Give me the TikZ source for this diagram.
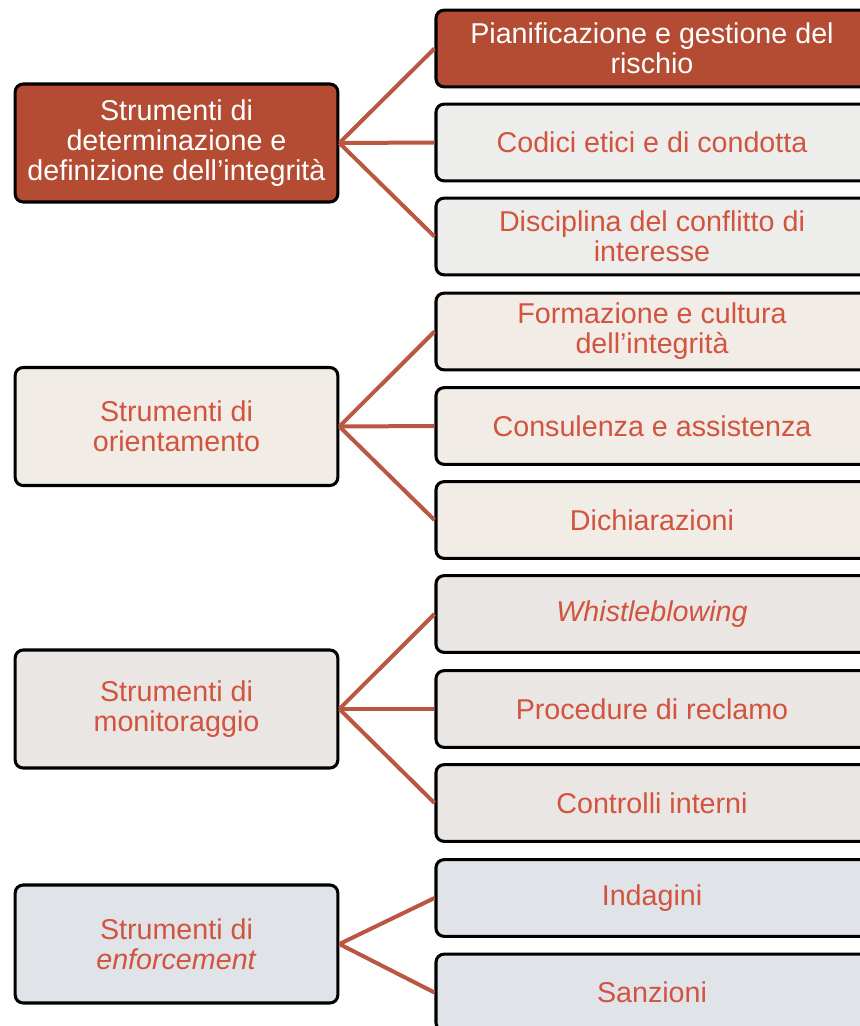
\documentclass[tikz,border=0pt]{standalone}
\usepackage{fontspec}
\setmainfont{Liberation Sans}
\definecolor{rust}{RGB}{179,76,51}
\definecolor{txtred}{RGB}{210,84,63}
\definecolor{linered}{RGB}{185,87,66}
\definecolor{fillA}{RGB}{237,238,236}
\definecolor{fillB}{RGB}{241,236,230}
\definecolor{fillC}{RGB}{234,230,227}
\definecolor{fillD}{RGB}{224,227,232}
\begin{document}
\begin{tikzpicture}[x=0.75pt,y=-0.75pt,
  box/.style={draw=black,line width=2.3pt,rounded corners=6pt,align=center,
    inner sep=0pt,font=\fontsize{21.5}{22.5}\selectfont,text=txtred},
  leftbox/.style={box,minimum width=242pt,minimum height=88.5pt},
  rightbox/.style={box,minimum width=324pt,minimum height=57.5pt},
  conn/.style={draw=linered,line width=3pt}]
\useasboundingbox (0,0) rectangle (860,1026);
\clip (0,0) rectangle (860,1026);
% left boxes
\node[leftbox,fill=rust,text=white] (L1) at (176.5,143) {Strumenti di\\determinazione e\\definizione dell’integrità};
\node[leftbox,fill=fillB] (L2) at (176.5,426.5) {Strumenti di\\orientamento};
\node[leftbox,fill=fillC] (L3) at (176.5,709) {Strumenti di\\monitoraggio};
\node[leftbox,fill=fillD] (L4) at (176.5,944) {Strumenti di\\\textit{enforcement}};
% right boxes
\node[rightbox,fill=rust,text=white] (R1) at (652,48.5) {Pianificazione e gestione del\\rischio};
\node[rightbox,fill=fillA] (R2) at (652,142.5) {Codici etici e di condotta};
\node[rightbox,fill=fillA] (R3) at (652,236.5) {Disciplina del conflitto di\\interesse};
\node[rightbox,fill=fillB] (R4) at (652,331.5) {Formazione e cultura\\dell’integrità};
\node[rightbox,fill=fillB] (R5) at (652,426) {Consulenza e assistenza};
\node[rightbox,fill=fillB] (R6) at (652,520) {Dichiarazioni};
\node[rightbox,fill=fillC] (R7) at (652,614) {\textit{Whistleblowing}};
\node[rightbox,fill=fillC] (R8) at (652,709) {Procedure di reclamo};
\node[rightbox,fill=fillC] (R9) at (652,803) {Controlli interni};
\node[rightbox,fill=fillD] (R10) at (652,898) {Indagini};
\node[rightbox,fill=fillD] (R11) at (652,992.5) {Sanzioni};
% connectors
\foreach \r in {R1,R2,R3} \draw[conn] (L1.east) -- (\r.west);
\foreach \r in {R4,R5,R6} \draw[conn] (L2.east) -- (\r.west);
\foreach \r in {R7,R8,R9} \draw[conn] (L3.east) -- (\r.west);
\foreach \r in {R10,R11} \draw[conn] (L4.east) -- (\r.west);
\end{tikzpicture}
\end{document}
